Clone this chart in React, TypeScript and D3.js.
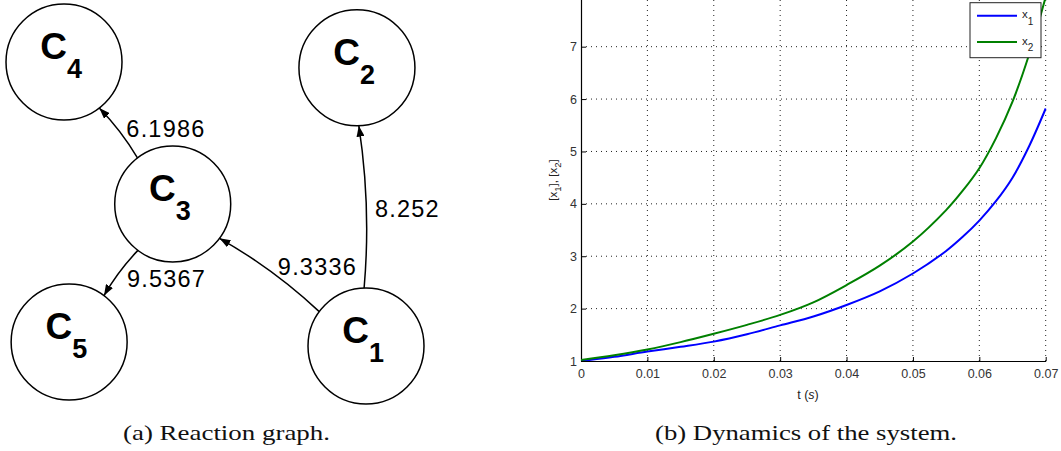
import React, { useEffect, useRef } from 'react';
import * as d3 from 'd3';

// reaction graph data
const nodeNames = ['1', '2', '3', '4', '5'];
const edgeFrom = ['3', '1', '1', '3'];
const edgeTo = ['4', '2', '3', '5'];
const edgeRates = ['6.1986', '8.252', '9.3336', '9.5367'];

// dynamics data
const timeS = [0, 0.005, 0.01, 0.015, 0.02, 0.025, 0.03, 0.035, 0.04, 0.045, 0.05, 0.055, 0.0575, 0.06, 0.0625, 0.065, 0.0675, 0.07];
const x1Values = [1.0, 1.08, 1.18, 1.27, 1.37, 1.51, 1.68, 1.85, 2.07, 2.33, 2.67, 3.1, 3.37, 3.68, 4.05, 4.5, 5.1, 5.82];
const x2Values = [1.02, 1.11, 1.22, 1.36, 1.52, 1.69, 1.88, 2.12, 2.45, 2.82, 3.28, 3.88, 4.25, 4.68, 5.25, 5.95, 6.85, 7.95];
const xTicks = [0, 0.01, 0.02, 0.03, 0.04, 0.05, 0.06, 0.07];
const yTicks = [1, 2, 3, 4, 5, 6, 7, 8];

// layout of the graph nodes in abstract units (0..100)
const nodeLayout: Record<string, [number, number]> = {
  '1': [100, 100],
  '2': [97, 2],
  '3': [36, 50],
  '4': [0, 0],
  '5': [1.7, 98.6],
};
const labelOffset = [[8, 4], [13.5, 10], [8.5, 0], [6, 14]];

export default function App() {
  const ref = useRef<SVGSVGElement>(null);

  useEffect(() => {
    const svg = d3.select(ref.current);
    svg.selectAll('*').remove();

    // ---------- left: reaction graph ----------
    const gx = d3.scaleLinear().domain([0, 100]).range([64, 366]);
    const gy = d3.scaleLinear().domain([0, 100]).range([62, 346]);
    const r = 58;

    svg
      .append('defs')
      .append('marker')
      .attr('id', 'arrow')
      .attr('markerUnits', 'userSpaceOnUse')
      .attr('markerWidth', 11)
      .attr('markerHeight', 8)
      .attr('refX', 11)
      .attr('refY', 4)
      .attr('orient', 'auto')
      .append('path')
      .attr('d', 'M0,0 L11,4 L0,8 z')
      .attr('fill', '#000');

    const graph = svg.append('g');

    edgeFrom.forEach((from, i) => {
      const [sx0, sy0] = nodeLayout[from];
      const [tx0, ty0] = nodeLayout[edgeTo[i]];
      const sx = gx(sx0), sy = gy(sy0), tx = gx(tx0), ty = gy(ty0);
      const len = Math.hypot(tx - sx, ty - sy);
      const dx = (tx - sx) / len, dy = (ty - sy) / len;
      const x1 = sx + dx * r, y1 = sy + dy * r;
      const x2 = tx - dx * r, y2 = ty - dy * r;
      const mx = (x1 + x2) / 2, my = (y1 + y2) / 2;
      const bend = 0.06 * Math.hypot(x2 - x1, y2 - y1);
      const p = d3.path();
      p.moveTo(x1, y1);
      p.quadraticCurveTo(mx - dy * bend, my + dx * bend, x2, y2);
      graph
        .append('path')
        .attr('d', p.toString())
        .attr('fill', 'none')
        .attr('stroke', '#000')
        .attr('stroke-width', 1.5)
        .attr('marker-end', 'url(#arrow)');

      graph
        .append('text')
        .attr('x', mx + labelOffset[i][0])
        .attr('y', my + labelOffset[i][1])
        .attr('font-family', 'Liberation Sans, Arial, sans-serif')
        .attr('font-size', 23.5)
        .attr('letter-spacing', 1.2)
        .attr('fill', '#000')
        .text(edgeRates[i]);
    });

    nodeNames.forEach((name) => {
      const cx = gx(nodeLayout[name][0]);
      const cy = gy(nodeLayout[name][1]);
      graph
        .append('circle')
        .attr('cx', cx)
        .attr('cy', cy)
        .attr('r', r)
        .attr('fill', '#fff')
        .attr('stroke', '#000')
        .attr('stroke-width', 1.5);
      graph
        .append('text')
        .attr('x', cx + 3)
        .attr('y', cy - 3)
        .attr('text-anchor', 'end')
        .attr('font-family', 'Liberation Sans, Arial, sans-serif')
        .attr('font-weight', 'bold')
        .attr('font-size', 37)
        .text('C');
      graph
        .append('text')
        .attr('x', cx + 3)
        .attr('y', cy + 16)
        .attr('font-family', 'Liberation Sans, Arial, sans-serif')
        .attr('font-weight', 'bold')
        .attr('font-size', 27)
        .text(name);
    });

    // ---------- right: dynamics plot ----------
    const x = d3.scaleLinear().domain([0, 0.07]).range([581, 1045.7]);
    const y = d3.scaleLinear().domain([1, 8]).range([361, -5.7]);
    const plot = svg.append('g');

    // grid
    plot
      .selectAll('.vgrid')
      .data(xTicks.slice(1))
      .enter()
      .append('line')
      .attr('x1', (d) => x(d))
      .attr('x2', (d) => x(d))
      .attr('y1', y(1))
      .attr('y2', y(8))
      .attr('stroke', '#222')
      .attr('stroke-width', 1)
      .attr('stroke-dasharray', '1,4');
    plot
      .selectAll('.hgrid')
      .data(yTicks.slice(1))
      .enter()
      .append('line')
      .attr('x1', x(0))
      .attr('x2', x(0.07))
      .attr('y1', (d) => y(d))
      .attr('y2', (d) => y(d))
      .attr('stroke', '#222')
      .attr('stroke-width', 1)
      .attr('stroke-dasharray', '1,4');

    const tickFont = 'Liberation Sans, Arial, sans-serif';

    const xAxis = plot
      .append('g')
      .attr('transform', `translate(0,${y(1)})`)
      .call(
        d3
          .axisBottom(x)
          .tickValues(xTicks)
          .tickSizeInner(-4)
          .tickSizeOuter(0)
          .tickPadding(8)
          .tickFormat((d) => (d === 0 ? '0' : d3.format('.2f')(d as number)))
      );
    const yAxis = plot
      .append('g')
      .attr('transform', `translate(${x(0)},0)`)
      .call(d3.axisLeft(y).tickValues(yTicks).tickSizeInner(-5).tickSizeOuter(0).tickPadding(4).tickFormat(d3.format('d')));
    [xAxis, yAxis].forEach((a) => {
      a.attr('font-family', tickFont).attr('font-size', 12.5);
      a.selectAll('text').attr('fill', '#333');
      a.select('.domain').attr('stroke', '#000').attr('stroke-width', 1.2);
    });

    // curves
    plot
      .append('clipPath')
      .attr('id', 'plotclip')
      .append('rect')
      .attr('x', x(0))
      .attr('y', y(8))
      .attr('width', x(0.07) - x(0) + 1)
      .attr('height', y(1) - y(8));

    const line = d3
      .line<number>()
      .x((_, i) => x(timeS[i]))
      .y((d) => y(d))
      .curve(d3.curveCatmullRom);

    plot
      .append('path')
      .attr('d', line(x1Values))
      .attr('clip-path', 'url(#plotclip)')
      .attr('fill', 'none')
      .attr('stroke', '#0000ff')
      .attr('stroke-width', 2);
    plot
      .append('path')
      .attr('d', line(x2Values))
      .attr('clip-path', 'url(#plotclip)')
      .attr('fill', 'none')
      .attr('stroke', '#008000')
      .attr('stroke-width', 2);

    // legend
    const legend = plot.append('g');
    legend
      .append('rect')
      .attr('x', 970)
      .attr('y', 2.7)
      .attr('width', 71)
      .attr('height', 55)
      .attr('fill', '#fff')
      .attr('stroke', '#222')
      .attr('stroke-width', 1);
    const legendItems = [
      { sub: '1', color: '#0000ff' },
      { sub: '2', color: '#008000' },
    ];
    legendItems.forEach((item, i) => {
      const ly = 15.7 + i * 26.3;
      legend
        .append('line')
        .attr('x1', 977)
        .attr('x2', 1017)
        .attr('y1', ly)
        .attr('y2', ly)
        .attr('stroke', item.color)
        .attr('stroke-width', 2);
      const t = legend
        .append('text')
        .attr('x', 1022)
        .attr('y', ly + 2.6)
        .attr('font-family', tickFont)
        .attr('font-size', 11.5)
        .attr('fill', '#222')
        .text('x');
      t.append('tspan').attr('dy', 6.5).attr('font-size', 10).text(item.sub);
    });

    // axis labels
    const xl = plot
      .append('text')
      .attr('x', 808)
      .attr('y', 399)
      .attr('text-anchor', 'middle')
      .attr('font-family', tickFont)
      .attr('font-size', 12.5)
      .attr('fill', '#222')
      .text('t (');
    xl.append('tspan').attr('font-style', 'italic').text('s');
    xl.append('tspan').text(')');

    const yl = plot
      .append('text')
      .attr('transform', 'translate(557,180) rotate(-90)')
      .attr('text-anchor', 'middle')
      .attr('font-family', tickFont)
      .attr('font-size', 11.5)
      .attr('fill', '#222');
    yl.append('tspan').text('[x');
    yl.append('tspan').attr('dy', 4).attr('font-size', 9.5).text('1');
    yl.append('tspan').attr('dy', -4).text('], [x');
    yl.append('tspan').attr('dy', 4).attr('font-size', 9.5).text('2');
    yl.append('tspan').attr('dy', -4).text(']');

    // captions
    const captions = [
      { text: '(a) Reaction graph.', cx: 226.5, w: 207 },
      { text: '(b) Dynamics of the system.', cx: 806, w: 302 },
    ];
    captions.forEach((c) => {
      svg
        .append('text')
        .attr('x', c.cx - c.w / 2)
        .attr('y', 440)
        .attr('font-family', 'Liberation Serif, Times New Roman, serif')
        .attr('font-size', 22)
        .attr('textLength', c.w)
        .attr('lengthAdjust', 'spacingAndGlyphs')
        .attr('fill', '#111')
        .text(c.text);
    });
  }, []);

  return (
    <svg
      ref={ref}
      width={1061}
      height={451}
      style={{ position: 'absolute', left: 0, top: 0, background: '#fff' }}
    />
  );
}
